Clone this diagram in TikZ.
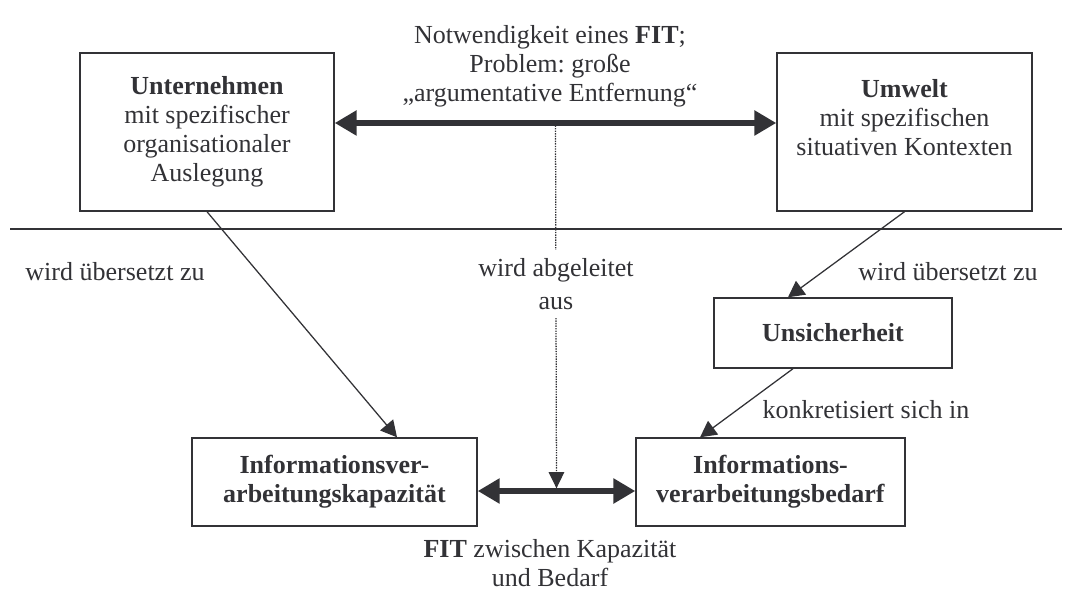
\documentclass[tikz,border=0pt]{standalone}
\usepackage{fontspec}
\setmainfont{Liberation Serif}
\frenchspacing
\usetikzlibrary{arrows.meta}
\definecolor{ink}{RGB}{50,50,54}
\begin{document}
\begin{tikzpicture}[x=0.025cm,y=-0.025cm,
  every node/.style={text=ink, font=\fontsize{18.5}{20.5}\selectfont},
  box/.style={draw=ink, line width=1pt, align=center, inner sep=0pt},
  boxtext/.style={align=center, inner sep=0pt},
  caption/.style={align=center, inner sep=1pt},
  thin arrow/.style={draw=ink, line width=0.9pt, -{Triangle[length=11.5pt,width=12pt]}},
  fit arrow/.style={draw=ink, line width=3.8pt,
    {Triangle[length=15.5pt,width=17pt]}-{Triangle[length=15.5pt,width=17pt]}},
  derive arrow/.style={draw=ink, line width=0.9pt, dash pattern=on 1pt off 0.8pt,
    -{Triangle[length=11.5pt,width=11pt]}},
  divider/.style={draw=ink, line width=1pt},
]
\useasboundingbox (0,0) rectangle (1066,597);

% upper level: organisation and environment (text sits at the top of each box)
\node[box, minimum width=6.35cm, minimum height=3.95cm] (unt) at (207,132) {};
\node[boxtext] (unttext) at (unt.center)
  {\textbf{Unternehmen}\\mit spezifischer\\organisationaler\\Auslegung};
\node[box, minimum width=6.375cm, minimum height=3.95cm] (umw) at (904.5,132) {};
\node[boxtext] (umwtext) at ([yshift=10.25pt]umw.center)
  {\textbf{Umwelt}\\mit spezifischen\\situativen Kontexten};

% separator between the two levels
\coordinate (sepL) at (10,229);
\coordinate (sepR) at (1062,229);
\draw[divider] (sepL) -- (sepR);

% lower level
\node[box, minimum width=5.95cm, minimum height=1.75cm] (uns) at (833,333)
  {\textbf{Unsicherheit}};
\node[box, minimum width=7.125cm, minimum height=2.2cm] (kap) at (334.5,482)
  {\textbf{Informationsver-}\\\textbf{arbeitungskapazität}};
\node[box, minimum width=6.725cm, minimum height=2.2cm] (bed) at (770.5,482)
  {\textbf{Informations-}\\\textbf{verarbeitungsbedarf}};

% FIT arrows and the derivation between them
\draw[fit arrow] ([yshift=.225cm]unt.east) -- coordinate (topmid) ([yshift=.225cm]umw.west);
\draw[fit arrow] ([yshift=-.225cm]kap.east) -- coordinate (botmid) ([yshift=-.225cm]bed.west);
\draw[derive arrow] (topmid) -- ([yshift=1.9pt]botmid);

% translation arrows
\draw[thin arrow] (unt.south) -- ([xshift=1.5625cm]kap.north);
\draw[thin arrow] (umw.south) -- ([xshift=-1.125cm]uns.north);
\draw[thin arrow] ([xshift=-1cm]uns.south) -- ([xshift=-1.76cm]bed.north);

% captions
\node[caption] (need) at (550,66)
  {Notwendigkeit eines \textbf{FIT};\\Problem: große\\„argumentative Entfernung“};
\node[caption] (transL) at (115,272) {wird übersetzt zu};
\node[caption] (transR) at (948,272) {wird übersetzt zu};
\node[caption, fill=white, inner ysep=6pt,
      font=\fontsize{18.5}{24}\selectfont] (derived) at (556,284) {wird abgeleitet\\aus};
\node[caption] (concrete) at (866,410) {konkretisiert sich in};
\node[caption] (fitcap) at (550,563) {\textbf{FIT} zwischen Kapazität\\und Bedarf};
\end{tikzpicture}
\end{document}
